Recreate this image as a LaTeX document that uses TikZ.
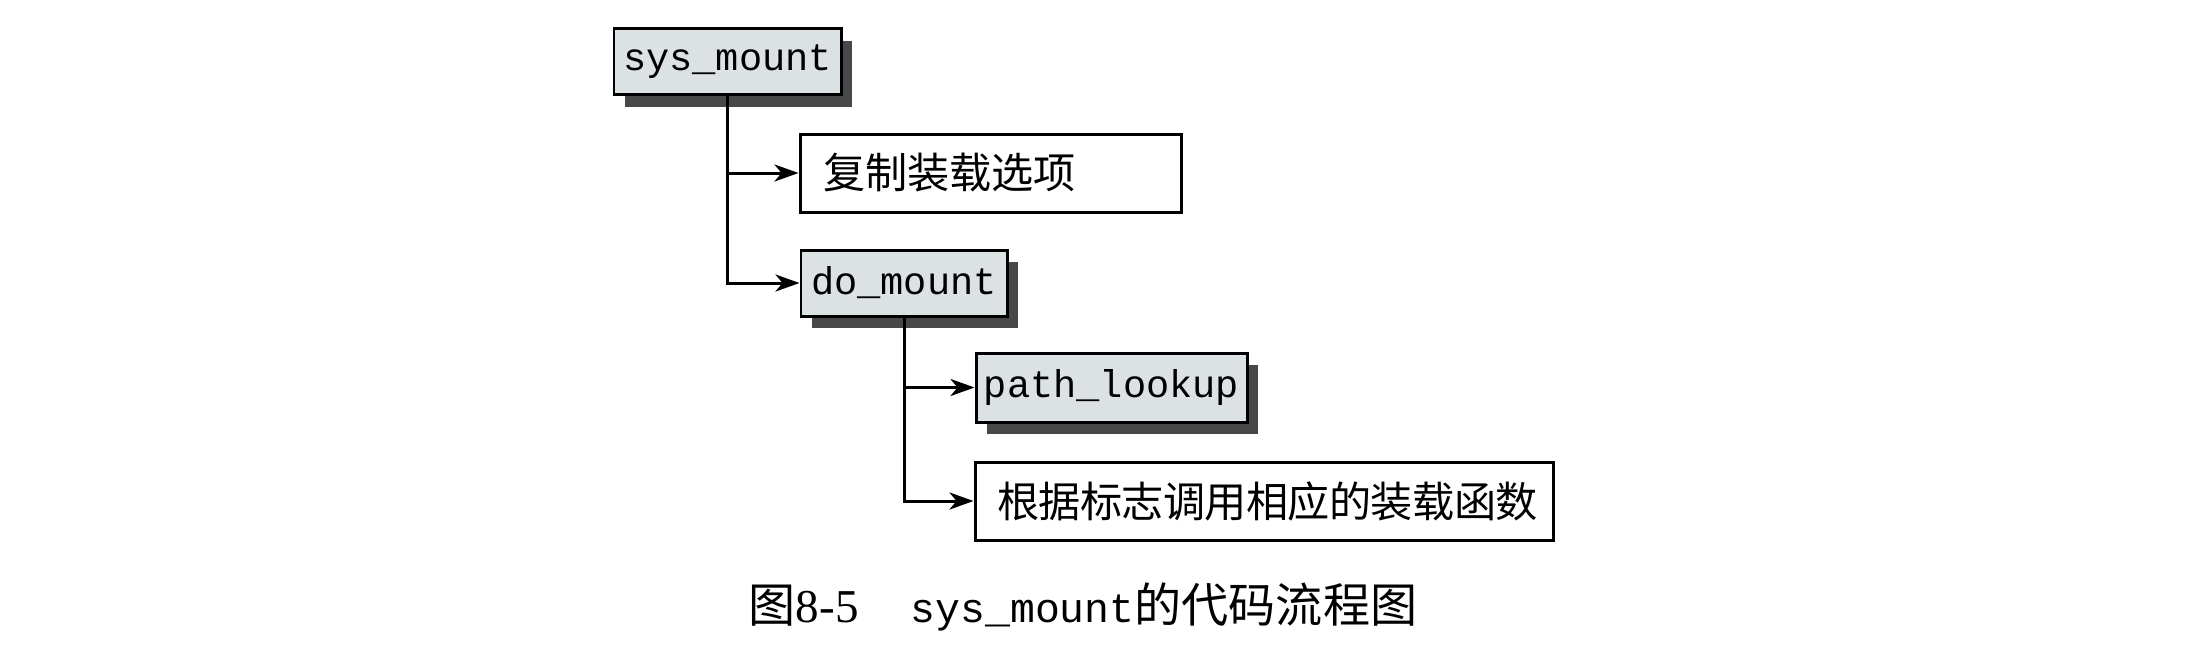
\documentclass[tikz,border=0pt]{standalone}
\usepackage{fontspec}
\setmainfont{Liberation Serif}
\setmonofont{Liberation Mono}
\newfontfamily\cjk{Noto Sans CJK SC}
\newfontfamily\cjkwide[LetterSpace=-1.5]{Noto Sans CJK SC}
\usetikzlibrary{arrows.meta,shadows}
\definecolor{boxgray}{RGB}{220,225,228}
\definecolor{shadegray}{RGB}{72,72,72}
\tikzset{
 func/.style={draw, line width=0.85pt, fill=boxgray, inner sep=0pt, minimum height=0.66cm,
  font=\fontsize{11}{13}\ttfamily,
  drop shadow={shadow xshift=0.11cm, shadow yshift=-0.12cm, fill=shadegray, opacity=1}},
 task/.style={draw, line width=0.85pt, fill=white, inner ysep=0pt, minimum height=0.78cm, align=left},
 link/.style={line width=0.85pt, -{Stealth[length=0.24cm,width=0.17cm,inset=0.07cm]}}
}

\begin{document}
\begin{tikzpicture}
 \useasboundingbox (0,0) rectangle (21.9,-6.63);

 \coordinate (s) at (7.275,-0.615);
 \coordinate (c) at (9.905,-1.73);
 \coordinate (d) at (9.04,-2.83);
 \coordinate (p) at (11.115,-3.875);
 \coordinate (f) at (12.64,-5.01);
 \coordinate (t) at (10.83,-6.07);



\node [func, minimum width=2.27cm] (sysmount) at (s) {sys\_mount};
\node [task, inner xsep=0.23cm, text width=3.35cm, font=\fontsize{12}{14}\cjk] (copyopt) at (c) {复制装载选项};
\node [func, minimum width=2.06cm] (domount) at (d) {do\_mount};
\node [func, minimum width=2.71cm, minimum height=0.69cm] (pathlookup) at (p) {path\_lookup};
\node [task, inner xsep=0.22cm, text width=5.34cm, font=\fontsize{12}{14}\cjkwide] (callfs) at (f) {根据标志调用相应的装载函数};

\draw[link] (sysmount.south) |- (copyopt.west);
\draw[link] (sysmount.south) |- (domount.west);
\draw[link] (domount.south) |- (pathlookup.west);
\draw[link] (domount.south) |- (callfs.west);

\node [font=\fontsize{13.4}{15}\selectfont] (caption) at (t) {{\cjk 图}8-5\hspace{0.52cm}{\fontsize{11.8}{14}\ttfamily sys\_mount}{\cjk 的代码流程图}};

\end{tikzpicture}
\end{document}
